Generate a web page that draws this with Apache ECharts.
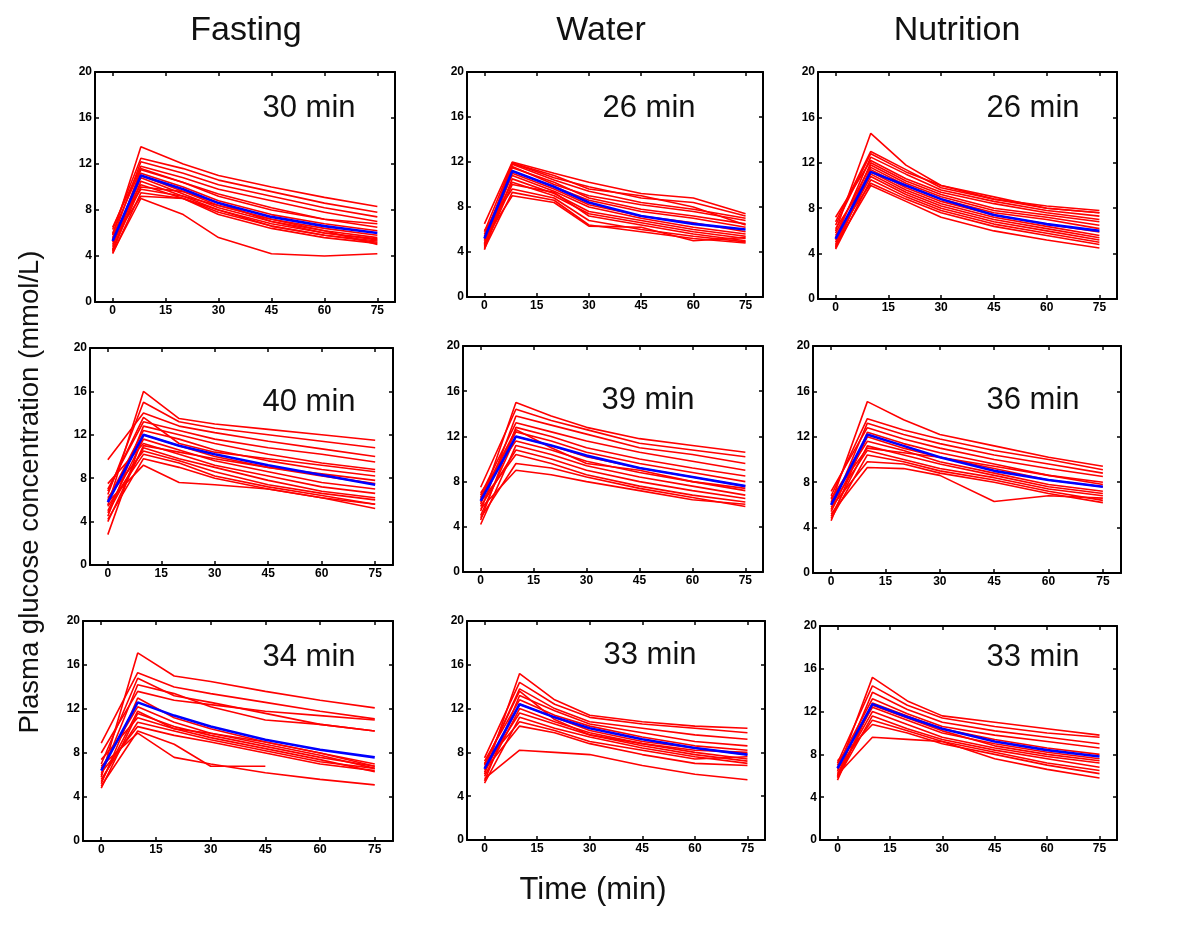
<!DOCTYPE html>
<html><head><meta charset="utf-8">
<script src="https://cdn.jsdelivr.net/npm/echarts@6/dist/echarts.min.js"></script>
<style>html,body{margin:0;background:#fff}#c{width:1200px;height:940px}</style>
</head><body><div id="c"></div>
<script>
// ---------------- data ----------------
const TIMES_ROW1 = [0, 8, 20, 30, 45, 60, 75];
const TIMES = [0, 10, 20, 30, 45, 60, 75];
const X_TICKS = [0, 15, 30, 45, 60, 75];
const COLUMN_TITLES = ['Fasting', 'Water', 'Nutrition'];
const DURATION_LABELS = ['30 min', '26 min', '26 min', '40 min', '39 min', '36 min', '34 min', '33 min', '33 min'];
const Y_LABEL = 'Plasma glucose concentration (mmol/L)';
const X_LABEL = 'Time (min)';

// Row 1
const MEAN_FASTING_1 = [5.3, 11.0, 9.8, 8.6, 7.4, 6.6, 6.0];
const SUBJ_FASTING_1 = [
  [5.8, 13.5, 12.0, 11.0, 10.0, 9.1, 8.3],
  [6.3, 12.5, 11.6, 10.6, 9.6, 8.6, 7.8],
  [5.5, 12.2, 11.2, 10.2, 9.2, 8.2, 7.4],
  [6.5, 11.8, 10.8, 9.8, 8.8, 7.8, 7.0],
  [4.8, 11.5, 10.4, 9.2, 8.0, 7.2, 6.5],
  [5.2, 11.2, 10.0, 8.8, 7.6, 6.8, 6.2],
  [4.5, 11.0, 9.6, 8.4, 7.2, 6.4, 5.8],
  [5.0, 10.8, 9.4, 8.2, 7.0, 6.2, 5.6],
  [4.4, 10.5, 9.2, 8.0, 6.8, 6.0, 5.4],
  [5.6, 10.2, 9.0, 7.8, 6.6, 5.8, 5.2],
  [4.6, 10.0, 9.6, 8.6, 7.0, 6.0, 5.5],
  [5.9, 9.8, 9.2, 8.4, 7.2, 6.2, 5.0],
  [4.2, 9.5, 9.0, 8.0, 6.6, 5.8, 5.3],
  [5.4, 9.2, 9.0, 7.6, 6.4, 5.6, 5.1],
  [4.3, 9.0, 7.6, 5.6, 4.2, 4.0, 4.2],
  [6.0, 11.6, 10.4, 9.4, 8.2, 7.2, 6.8]
];
const MEAN_WATER_1 = [5.2, 11.2, 9.8, 8.4, 7.2, 6.5, 6.0];
const SUBJ_WATER_1 = [
  [6.5, 12.0, 11.0, 10.2, 9.2, 8.8, 7.4],
  [5.8, 11.9, 10.6, 9.8, 8.8, 8.4, 7.2],
  [5.0, 11.8, 10.4, 9.4, 8.4, 7.8, 7.0],
  [4.6, 11.6, 10.0, 9.0, 8.2, 7.6, 6.8],
  [5.4, 11.5, 10.2, 8.8, 7.8, 7.2, 6.5],
  [4.2, 11.2, 9.8, 8.6, 7.6, 7.0, 6.2],
  [4.8, 11.0, 9.6, 8.2, 7.2, 6.6, 5.8],
  [5.6, 10.8, 9.4, 8.0, 7.0, 6.2, 5.6],
  [4.4, 10.5, 9.2, 7.6, 6.8, 6.0, 5.4],
  [5.2, 10.2, 9.0, 7.4, 6.6, 5.8, 5.2],
  [4.5, 10.0, 9.3, 7.2, 6.4, 5.6, 5.0],
  [5.9, 9.6, 8.8, 6.8, 6.0, 5.4, 4.9],
  [4.3, 9.3, 8.6, 6.4, 5.8, 5.2, 4.8],
  [5.1, 9.0, 8.4, 6.3, 6.2, 5.0, 5.3],
  [4.7, 11.9, 10.8, 9.6, 9.0, 8.0, 6.4]
];
const MEAN_NUTRITION_1 = [5.3, 11.2, 10.0, 8.8, 7.4, 6.6, 6.0];
const SUBJ_NUTRITION_1 = [
  [6.0, 14.6, 11.8, 10.0, 8.8, 8.2, 7.8],
  [6.8, 13.0, 11.4, 9.8, 8.8, 8.0, 7.6],
  [5.4, 12.5, 11.0, 9.6, 8.6, 7.8, 7.3],
  [7.2, 12.2, 10.6, 9.4, 8.4, 7.6, 7.0],
  [4.8, 12.0, 10.4, 9.2, 8.0, 7.4, 6.8],
  [5.8, 11.8, 10.2, 9.0, 7.8, 7.2, 6.5],
  [4.5, 11.6, 10.0, 8.8, 7.6, 7.0, 6.2],
  [5.2, 11.4, 9.8, 8.6, 7.4, 6.6, 5.9],
  [4.6, 11.2, 9.6, 8.4, 7.2, 6.4, 5.6],
  [6.2, 11.0, 9.4, 8.2, 7.0, 6.2, 5.4],
  [5.0, 10.8, 9.2, 8.0, 6.8, 6.0, 5.2],
  [4.4, 10.5, 9.0, 7.8, 6.6, 5.8, 5.0],
  [5.6, 10.2, 8.8, 7.6, 6.4, 5.6, 4.8],
  [4.7, 10.0, 8.6, 7.2, 6.0, 5.2, 4.5],
  [6.5, 12.8, 11.2, 10.0, 9.0, 8.0, 7.6]
];
// Row 2
const MEAN_FASTING_2 = [5.8, 12.0, 11.0, 10.2, 9.2, 8.3, 7.4];
const SUBJ_FASTING_2 = [
  [5.5, 16.0, 13.5, 13.0, 12.5, 12.0, 11.5],
  [6.5, 15.0, 13.2, 12.6, 12.0, 11.4, 10.8],
  [9.7, 14.0, 12.8, 12.2, 11.4, 10.7, 10.0],
  [7.0, 13.2, 12.4, 11.6, 10.8, 10.2, 9.5],
  [4.5, 12.8, 12.0, 11.2, 10.2, 9.4, 8.8],
  [6.0, 12.4, 11.6, 10.6, 9.6, 8.8, 8.2],
  [2.8, 12.0, 11.0, 10.0, 9.0, 8.2, 7.5],
  [5.0, 11.6, 10.6, 9.6, 8.6, 7.6, 7.0],
  [7.5, 11.2, 10.2, 9.2, 8.2, 7.2, 6.6],
  [4.8, 10.8, 9.8, 9.0, 7.8, 6.8, 6.2],
  [6.2, 10.5, 9.6, 8.6, 7.4, 6.6, 6.0],
  [5.4, 10.2, 9.4, 8.2, 7.2, 6.4, 5.6],
  [4.2, 9.8, 9.0, 8.0, 7.0, 6.2, 5.2],
  [5.8, 9.2, 7.6, 7.4, 7.0, 6.2, 5.6],
  [6.8, 13.6, 11.2, 10.4, 9.8, 9.2, 8.6],
  [4.0, 11.0, 10.4, 9.8, 9.0, 8.4, 7.8]
];
const MEAN_WATER_2 = [6.3, 12.0, 11.2, 10.3, 9.2, 8.4, 7.6];
const SUBJ_WATER_2 = [
  [6.0, 15.0, 13.8, 12.8, 11.8, 11.2, 10.6],
  [7.5, 14.4, 13.4, 12.6, 11.4, 10.8, 10.2],
  [5.4, 13.8, 13.0, 12.2, 11.0, 10.4, 9.6],
  [6.8, 13.2, 12.4, 11.6, 10.6, 9.8, 9.0],
  [4.6, 12.8, 12.0, 11.0, 10.0, 9.2, 8.5],
  [6.5, 12.4, 11.6, 10.6, 9.6, 8.8, 8.0],
  [5.0, 12.0, 11.2, 10.2, 9.2, 8.4, 7.6],
  [7.0, 11.6, 10.8, 9.8, 8.8, 8.0, 7.2],
  [4.2, 11.2, 10.4, 9.4, 8.4, 7.6, 6.8],
  [5.8, 10.8, 10.0, 9.0, 8.0, 7.2, 6.5],
  [6.2, 10.4, 9.6, 8.6, 7.6, 6.8, 6.2],
  [4.8, 9.6, 9.2, 8.4, 7.4, 6.6, 5.8],
  [5.6, 9.0, 8.6, 8.0, 7.2, 6.4, 6.0],
  [6.6, 12.6, 11.0, 9.6, 9.0, 8.0, 7.4]
];
const MEAN_NUTRITION_2 = [6.0, 12.2, 11.2, 10.2, 9.0, 8.2, 7.6];
const SUBJ_NUTRITION_2 = [
  [6.2, 15.1, 13.5, 12.2, 11.2, 10.2, 9.4],
  [6.8, 13.6, 12.6, 11.8, 10.8, 10.0, 9.1],
  [5.6, 13.2, 12.2, 11.4, 10.4, 9.6, 8.8],
  [7.2, 12.8, 11.8, 11.0, 10.0, 9.2, 8.5],
  [4.6, 12.4, 11.4, 10.6, 9.6, 8.6, 8.0],
  [5.4, 12.0, 11.0, 10.2, 9.2, 8.2, 7.6],
  [6.5, 11.6, 10.8, 9.8, 8.8, 7.8, 7.2],
  [5.0, 11.2, 10.4, 9.6, 8.6, 7.6, 7.0],
  [6.0, 10.8, 10.0, 9.2, 8.4, 7.4, 6.8],
  [4.8, 10.4, 9.8, 9.0, 8.2, 7.2, 6.4],
  [5.8, 9.8, 9.6, 8.8, 8.0, 7.0, 6.2],
  [5.2, 9.3, 9.2, 8.6, 6.3, 6.8, 6.6],
  [6.6, 11.0, 10.6, 10.2, 9.4, 8.6, 7.8]
];
// Row 3
const MEAN_FASTING_3 = [6.4, 12.6, 11.4, 10.4, 9.2, 8.3, 7.6];
const SUBJ_FASTING_3 = [
  [5.8, 17.1, 15.0, 14.5, 13.6, 12.8, 12.1],
  [8.9, 15.3, 14.0, 13.4, 12.6, 11.8, 11.1],
  [7.0, 14.8, 13.2, 12.6, 11.6, 10.6, 10.0],
  [6.0, 14.2, 13.4, 12.2, 11.0, 10.6, 10.0],
  [8.0, 13.6, 12.8, 12.4, 11.8, 11.4, 11.0],
  [5.2, 13.0, 11.2, 10.2, 9.0, 8.0, 6.8],
  [6.6, 12.2, 10.8, 9.8, 8.8, 7.8, 6.6],
  [4.8, 11.6, 10.4, 9.6, 8.6, 7.6, 6.8],
  [7.4, 11.2, 10.2, 9.4, 8.4, 7.4, 6.3],
  [5.6, 10.8, 10.0, 9.2, 8.2, 7.2, 6.6],
  [6.2, 10.4, 9.6, 9.0, 8.0, 7.0, 6.4],
  [5.0, 10.0, 8.8, 6.8, 6.8, null, null],
  [6.8, 9.8, 7.6, 7.0, 6.2, 5.6, 5.1],
  [5.4, 11.8, 10.2, 9.8, 9.0, 8.0, 7.0]
];
const MEAN_WATER_3 = [6.5, 12.4, 11.2, 10.2, 9.2, 8.4, 7.8];
const SUBJ_WATER_3 = [
  [6.0, 15.2, 12.8, 11.4, 10.8, 10.4, 10.2],
  [7.5, 14.4, 12.4, 11.2, 10.6, 10.2, 9.8],
  [6.8, 13.8, 12.0, 10.8, 10.2, 9.6, 9.2],
  [5.4, 13.2, 11.8, 10.6, 9.8, 9.0, 8.6],
  [7.2, 12.8, 11.4, 10.4, 9.4, 8.6, 8.2],
  [6.2, 12.4, 11.2, 10.0, 9.0, 8.4, 7.8],
  [5.8, 12.0, 10.8, 9.8, 8.8, 8.0, 7.4],
  [6.6, 11.6, 10.6, 9.6, 8.6, 7.8, 7.2],
  [5.2, 11.2, 10.2, 9.4, 8.4, 7.6, 7.0],
  [7.0, 10.8, 10.0, 9.0, 8.2, 7.4, 7.6],
  [6.4, 10.4, 9.8, 8.8, 7.8, 7.0, 6.8],
  [5.6, 8.2, 8.0, 7.8, 6.8, 6.0, 5.5],
  [6.9, 13.6, 11.0, 9.6, 8.8, 8.2, 8.0]
];
const MEAN_NUTRITION_3 = [6.7, 12.7, 11.5, 10.4, 9.2, 8.4, 7.8];
const SUBJ_NUTRITION_3 = [
  [6.4, 15.2, 13.0, 11.6, 11.0, 10.4, 9.8],
  [7.2, 14.4, 12.6, 11.4, 10.6, 10.0, 9.6],
  [6.0, 13.8, 12.2, 11.0, 10.2, 9.6, 9.0],
  [7.0, 13.2, 11.8, 10.6, 9.8, 9.2, 8.6],
  [5.6, 12.8, 11.6, 10.4, 9.4, 8.6, 8.0],
  [6.8, 12.4, 11.2, 10.0, 9.0, 8.2, 7.6],
  [6.2, 12.0, 10.8, 9.6, 8.6, 7.8, 7.2],
  [5.8, 11.6, 10.4, 9.4, 8.4, 7.6, 6.8],
  [6.6, 11.2, 10.2, 9.2, 8.2, 7.2, 6.5],
  [7.4, 10.8, 10.0, 9.0, 8.0, 7.0, 6.2],
  [6.1, 9.6, 9.4, 9.2, 7.6, 6.6, 5.8],
  [5.9, 12.6, 11.4, 10.2, 8.8, 8.0, 7.4]
];

// ---------------- layout (pixels) ----------------
const PANELS = [
  {times: TIMES_ROW1, mean: MEAN_FASTING_1, subj: SUBJ_FASTING_1, box: [95, 72, 300, 230], lab: [309, 108]},
  {times: TIMES_ROW1, mean: MEAN_WATER_1, subj: SUBJ_WATER_1, box: [467, 72, 296, 225], lab: [649, 108]},
  {times: TIMES, mean: MEAN_NUTRITION_1, subj: SUBJ_NUTRITION_1, box: [818, 72, 299, 227], lab: [1033, 108]},
  {times: TIMES, mean: MEAN_FASTING_2, subj: SUBJ_FASTING_2, box: [90, 348, 303, 217], lab: [309, 402]},
  {times: TIMES, mean: MEAN_WATER_2, subj: SUBJ_WATER_2, box: [463, 346, 300, 226], lab: [648, 400]},
  {times: TIMES, mean: MEAN_NUTRITION_2, subj: SUBJ_NUTRITION_2, box: [813, 346, 308, 227], lab: [1033, 400]},
  {times: TIMES, mean: MEAN_FASTING_3, subj: SUBJ_FASTING_3, box: [83, 621, 310, 220], lab: [309, 657]},
  {times: TIMES, mean: MEAN_WATER_3, subj: SUBJ_WATER_3, box: [467, 621, 298, 219], lab: [650, 655]},
  {times: TIMES, mean: MEAN_NUTRITION_3, subj: SUBJ_NUTRITION_3, box: [820, 626, 297, 214], lab: [1033, 657]}
];
const TITLE_X = [246, 601, 957];

const FONT = '"Liberation Sans", Arial, sans-serif';
const grids = [], xAxes = [], yAxes = [], series = [], graphics = [];
const tickStyle = {show: true, inside: true, length: 4, lineStyle: {color: '#000', width: 1.5}};
const lineStyleAxis = {show: true, onZero: false, lineStyle: {color: '#000', width: 2}};
const labelStyle = {color: '#000', fontSize: 12, fontWeight: 'bold', fontFamily: FONT};

function toPairs(times, vals) {
  const out = [];
  vals.forEach((v, i) => { if (v !== null) out.push([times[i], v]); });
  return out;
}

PANELS.forEach((p, k) => {
  const [l, t, w, h] = p.box;
  grids.push({left: l, top: t, width: w, height: h, show: false});
  xAxes.push({
    type: 'value', gridIndex: k, position: 'bottom', min: -5, max: 80,
    axisLine: lineStyleAxis,
    axisTick: Object.assign({}, tickStyle, {customValues: X_TICKS}),
    axisLabel: Object.assign({}, labelStyle, {margin: 3, customValues: X_TICKS}),
    splitLine: {show: false}
  });
  xAxes.push({
    type: 'value', gridIndex: k, position: 'top', min: -5, max: 80,
    axisLine: lineStyleAxis,
    axisTick: Object.assign({}, tickStyle, {customValues: X_TICKS}),
    axisLabel: {show: false},
    splitLine: {show: false}
  });
  yAxes.push({
    type: 'value', gridIndex: k, position: 'left', min: 0, max: 20, interval: 4,
    axisLine: lineStyleAxis, axisTick: tickStyle,
    axisLabel: Object.assign({}, labelStyle, {margin: 3}),
    splitLine: {show: false}
  });
  yAxes.push({
    type: 'value', gridIndex: k, position: 'right', min: 0, max: 20, interval: 4,
    axisLine: lineStyleAxis, axisTick: tickStyle,
    axisLabel: {show: false}, splitLine: {show: false}
  });
  p.subj.forEach((s) => {
    series.push({
      type: 'line', xAxisIndex: 2 * k, yAxisIndex: 2 * k, data: toPairs(p.times, s),
      symbol: 'none', silent: true, lineStyle: {color: '#ff0000', width: 1.6}, z: 2
    });
  });
  series.push({
    type: 'line', xAxisIndex: 2 * k, yAxisIndex: 2 * k, data: toPairs(p.times, p.mean),
    symbol: 'none', silent: true, lineStyle: {color: '#0000ff', width: 2.6}, z: 3
  });
  graphics.push({
    type: 'text', x: p.lab[0], y: p.lab[1],
    style: {text: DURATION_LABELS[k], fill: '#111', font: '31px ' + FONT, textAlign: 'center', textVerticalAlign: 'middle'}
  });
});

COLUMN_TITLES.forEach((txt, i) => {
  graphics.push({
    type: 'text', x: TITLE_X[i], y: 31,
    style: {text: txt, fill: '#111', font: '34px ' + FONT, textAlign: 'center', textVerticalAlign: 'middle'}
  });
});
graphics.push({
  type: 'text', x: 30, y: 492, rotation: Math.PI / 2,
  style: {text: Y_LABEL, fill: '#111', font: '27.5px ' + FONT, textAlign: 'center', textVerticalAlign: 'middle'}
});
graphics.push({
  type: 'text', x: 593, y: 890,
  style: {text: X_LABEL, fill: '#111', font: '31px ' + FONT, textAlign: 'center', textVerticalAlign: 'middle'}
});

const chart = echarts.init(document.getElementById('c'), null, {renderer: 'canvas'});
chart.setOption({
  animation: false,
  backgroundColor: '#fff',
  grid: grids, xAxis: xAxes, yAxis: yAxes, series: series, graphic: graphics
});
</script>
</body></html>
